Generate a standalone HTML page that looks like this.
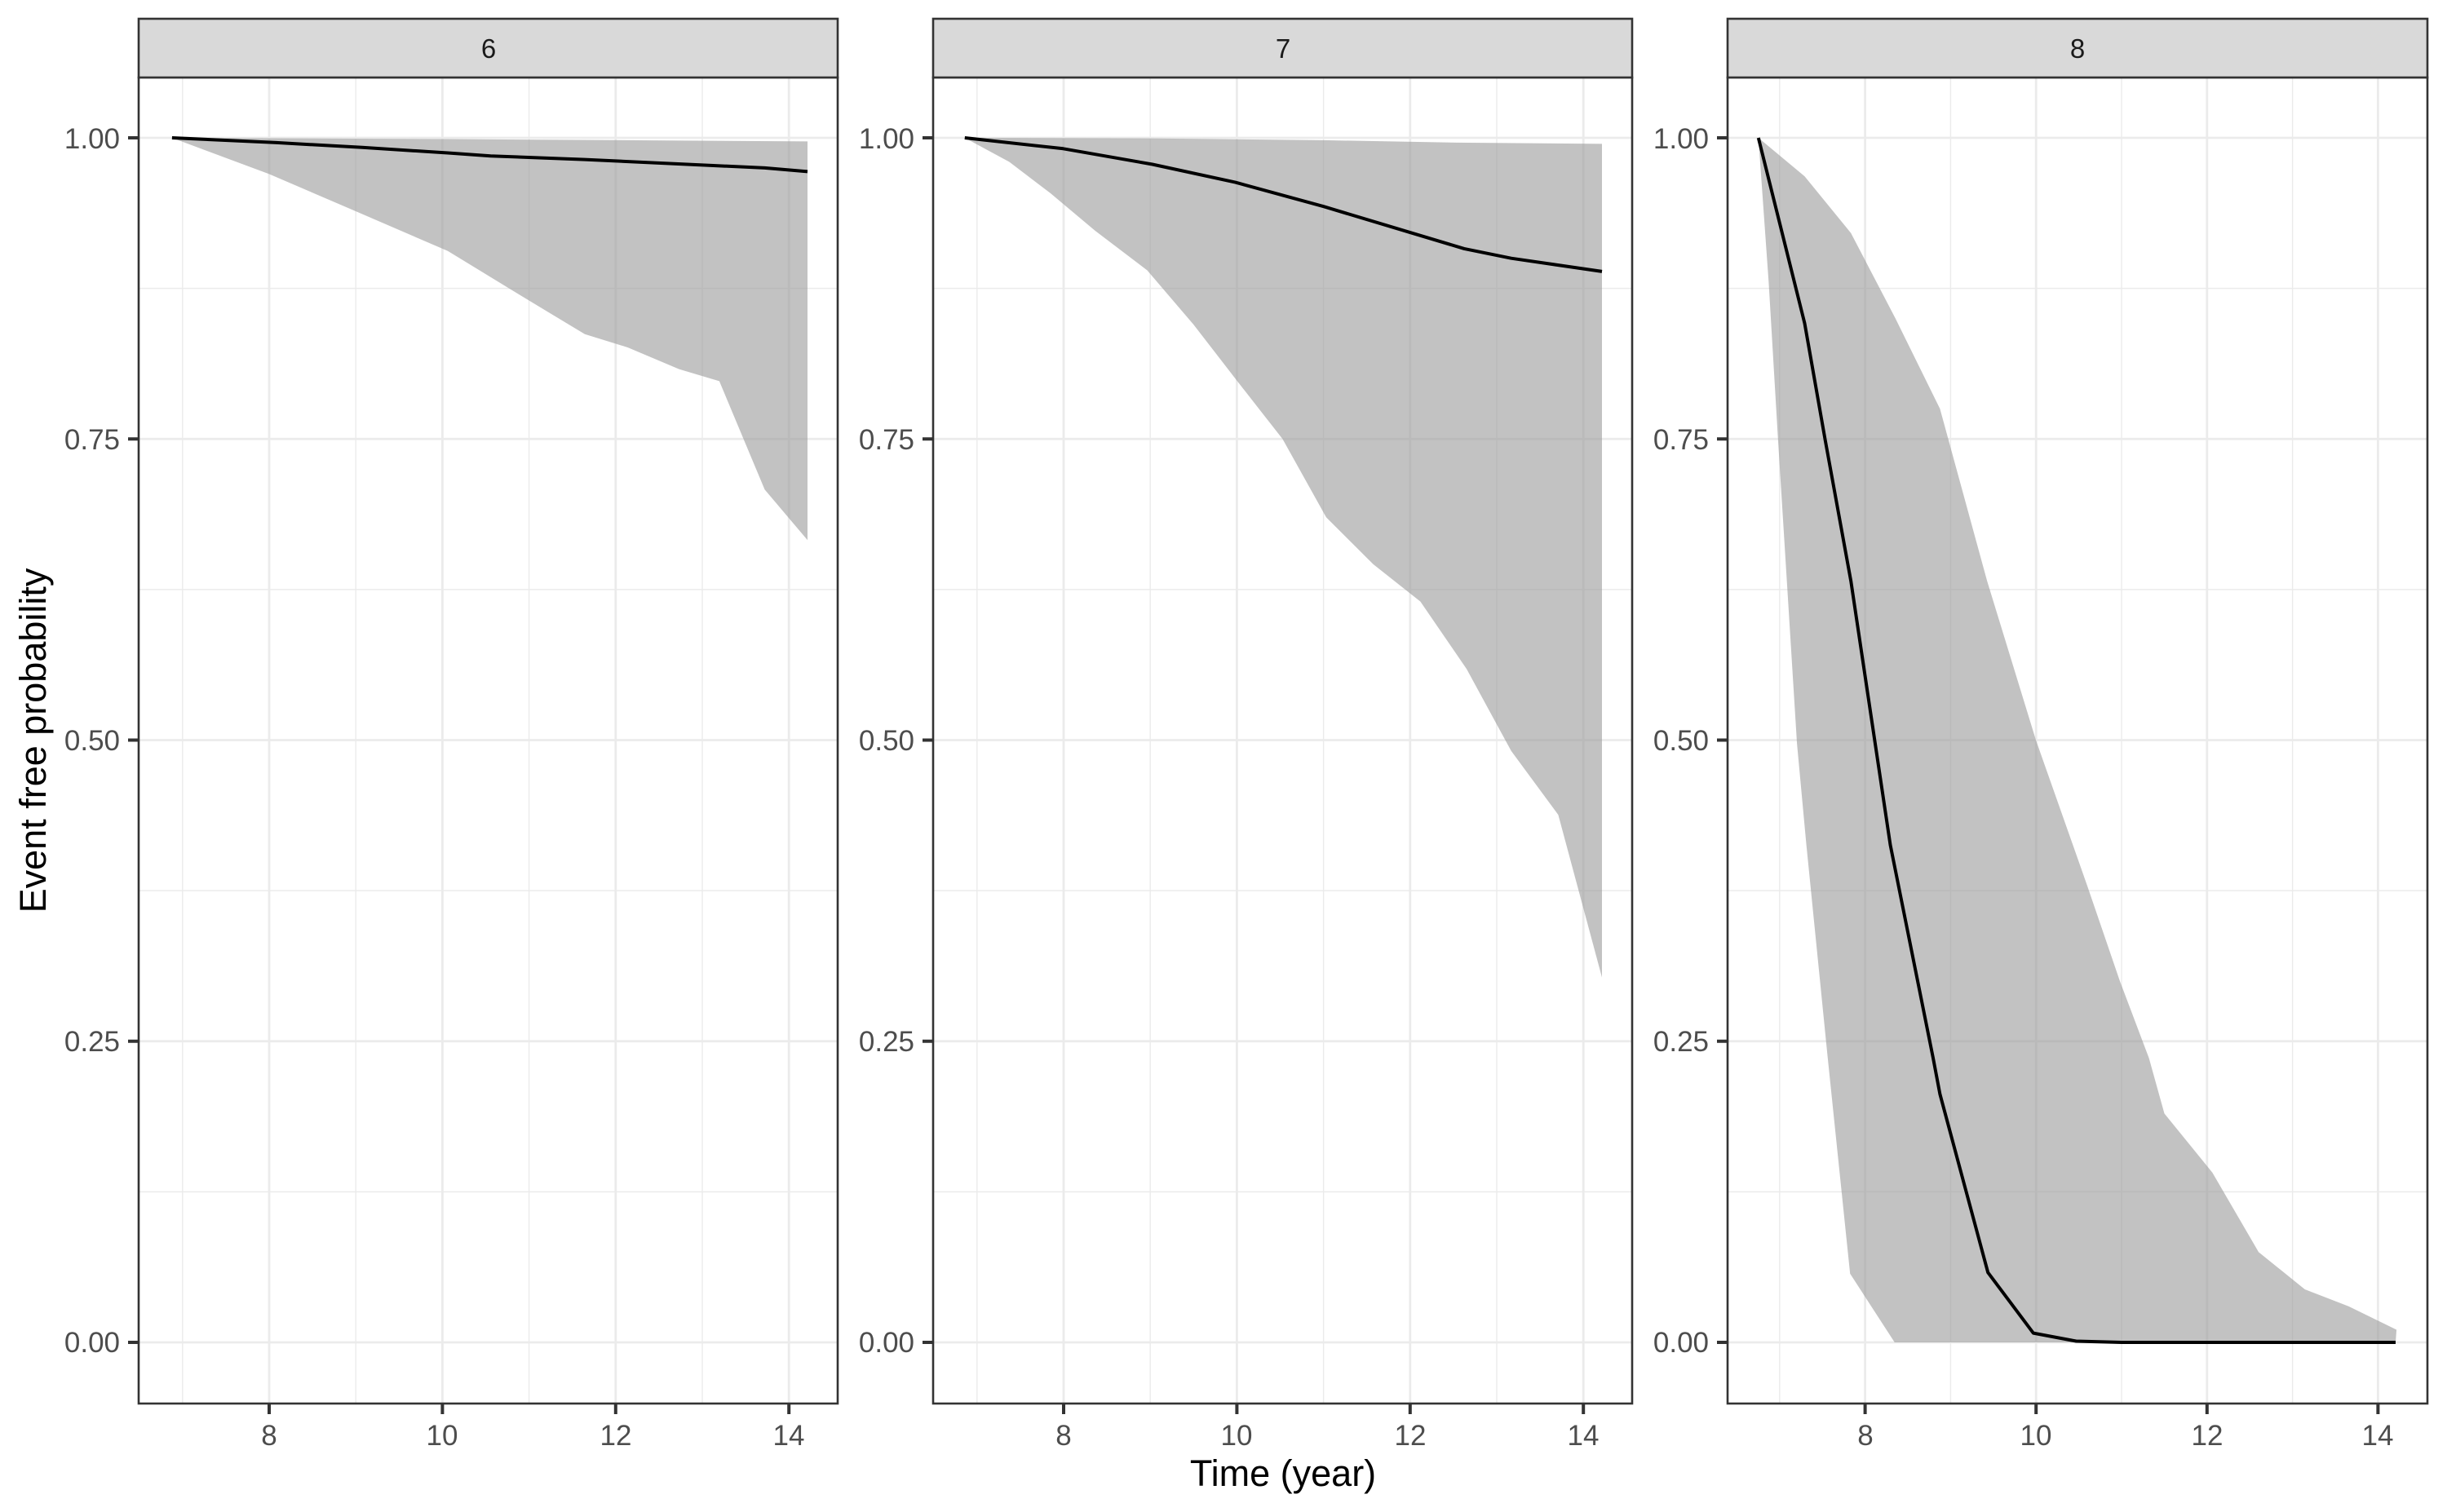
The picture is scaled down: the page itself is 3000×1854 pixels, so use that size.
<!DOCTYPE html>
<html><head><meta charset="utf-8"><style>
html,body{margin:0;padding:0;background:#fff}
svg{display:block}
text{font-family:"Liberation Sans",sans-serif}
</style></head><body>
<svg id="s" width="3000" height="1854" viewBox="0 0 3000 1854" xmlns="http://www.w3.org/2000/svg">
<g id="g"></g>
<g font-size="35" fill="#4d4d4d" text-anchor="end">
<text x="147" y="182">1.00</text><text x="147" y="551">0.75</text><text x="147" y="920">0.50</text><text x="147" y="1289">0.25</text><text x="147" y="1658">0.00</text>
<text x="1121" y="182">1.00</text><text x="1121" y="551">0.75</text><text x="1121" y="920">0.50</text><text x="1121" y="1289">0.25</text><text x="1121" y="1658">0.00</text>
<text x="2095" y="182">1.00</text><text x="2095" y="551">0.75</text><text x="2095" y="920">0.50</text><text x="2095" y="1289">0.25</text><text x="2095" y="1658">0.00</text>
</g>
<g font-size="35" fill="#4d4d4d" text-anchor="middle">
<text x="330" y="1772">8</text><text x="542" y="1772">10</text><text x="755" y="1772">12</text><text x="967" y="1772">14</text>
<text x="1304" y="1772">8</text><text x="1516" y="1772">10</text><text x="1729" y="1772">12</text><text x="1941" y="1772">14</text>
<text x="2287" y="1772">8</text><text x="2496" y="1772">10</text><text x="2706" y="1772">12</text><text x="2915" y="1772">14</text>
</g>
<g font-size="33" fill="#1a1a1a" text-anchor="middle">
<text x="599" y="71">6</text><text x="1573" y="71">7</text><text x="2547" y="71">8</text>
</g>
<text x="1573" y="1822" font-size="45" text-anchor="middle" fill="#000">Time (year)</text>
<text transform="translate(56,908) rotate(-90)" font-size="45" text-anchor="middle" fill="#000">Event free probability</text>
</svg>
<script>
var L=[170,1144,2118],R=[1027,2001,2976],T=95,B=1721;
var X0=[339,1313,2286];
function X(p,t){return X0[p]+(t-8)*105}
function G(p,t){return p<2?(L[p]+160+(t-8)*106.2):(L[p]+168.6+(t-8)*104.8)}
function Y(v){return 1646-1477*v}
var D=[
{lo:[[6.78,1],[7.91,0.970],[8.96,0.938],[10,0.906],[10.97,0.864],[11.6,0.837],[12.1,0.826],[12.7,0.808],[13.17,0.798],[13.7,0.708],[14.2,0.666]],
 up:[[6.78,1],[10,0.999],[14.2,0.997]],
 ln:[[6.78,1],[8,0.996],[9,0.992],[10,0.9875],[10.5,0.985],[11.6,0.982],[13.1,0.977],[13.7,0.975],[14.2,0.972]]},
{lo:[[6.76,1],[7.28,0.98],[7.76,0.954],[8.28,0.923],[8.89,0.89],[9.43,0.845],[9.92,0.8],[10.47,0.75],[10.98,0.685],[11.53,0.646],[12.08,0.615],[12.62,0.559],[13.14,0.491],[13.69,0.438],[14.2,0.303]],
 up:[[6.76,1],[9,0.9995],[11,0.998],[12.5,0.996],[14.2,0.995]],
 ln:[[6.76,1],[7.91,0.991],[8.95,0.978],[9.92,0.963],[10.95,0.943],[11.98,0.921],[12.59,0.908],[13.14,0.9],[14.2,0.889]]},
{lo:[[6.76,1],[6.88,0.88],[6.99,0.749],[7.21,0.497],[7.32,0.413],[7.57,0.236],[7.83,0.057],[8.35,0],[14.2,0]],
 up:[[6.76,1],[7.3,0.968],[7.84,0.921],[8.36,0.85],[8.88,0.775],[9.43,0.632],[10,0.5],[10.6,0.379],[10.98,0.3],[11.32,0.236],[11.5,0.19],[12.06,0.141],[12.6,0.075],[13.14,0.044],[13.65,0.03],[14.21,0.0105]],
 ln:[[6.76,1],[7.3,0.846],[7.54,0.749],[7.84,0.632],[8.3,0.413],[8.8,0.236],[8.88,0.206],[9.44,0.058],[9.97,0.0077],[10.47,0.001],[11,0],[14.2,0]]}
];
var h='';
for(var p=0;p<3;p++){
 var l=L[p],r=R[p],W=r-l;
 h+='<rect x="'+l+'" y="'+T+'" width="'+W+'" height="'+(B-T)+'" fill="#fff"/>';
 [0.125,0.375,0.625,0.875].forEach(function(v){h+='<line x1="'+l+'" x2="'+r+'" y1="'+Y(v)+'" y2="'+Y(v)+'" stroke="#ebebeb" stroke-width="1.4"/>'});
 [7,9,11,13].forEach(function(t){h+='<line y1="'+T+'" y2="'+B+'" x1="'+G(p,t)+'" x2="'+G(p,t)+'" stroke="#ebebeb" stroke-width="1.4"/>'});
 [0,0.25,0.5,0.75,1].forEach(function(v){h+='<line x1="'+l+'" x2="'+r+'" y1="'+Y(v)+'" y2="'+Y(v)+'" stroke="#ebebeb" stroke-width="2.8"/>'});
 [8,10,12,14].forEach(function(t){h+='<line y1="'+T+'" y2="'+B+'" x1="'+G(p,t)+'" x2="'+G(p,t)+'" stroke="#ebebeb" stroke-width="2.8"/>'});
 var d=D[p],pts=[];
 d.up.forEach(function(a){pts.push(X(p,a[0]).toFixed(1)+','+Y(a[1]).toFixed(1))});
 d.lo.slice().reverse().forEach(function(a){pts.push(X(p,a[0]).toFixed(1)+','+Y(a[1]).toFixed(1))});
 h+='<polygon points="'+pts.join(' ')+'" fill="#999" fill-opacity="0.6"/>';
 h+='<polyline points="'+d.ln.map(function(a){return X(p,a[0]).toFixed(1)+','+Y(a[1]).toFixed(1)}).join(' ')+'" fill="none" stroke="#000" stroke-width="4" stroke-linejoin="round"/>';
 h+='<rect x="'+l+'" y="'+T+'" width="'+W+'" height="'+(B-T)+'" fill="none" stroke="#333" stroke-width="2.6"/>';
 h+='<rect x="'+l+'" y="23" width="'+W+'" height="'+(T-23)+'" fill="#d9d9d9" stroke="#333" stroke-width="2.6"/>';
 [0,0.25,0.5,0.75,1].forEach(function(v){h+='<line x1="'+(l-13)+'" x2="'+l+'" y1="'+Y(v)+'" y2="'+Y(v)+'" stroke="#333" stroke-width="4"/>'});
 [8,10,12,14].forEach(function(t){h+='<line y1="'+B+'" y2="'+(B+13)+'" x1="'+G(p,t)+'" x2="'+G(p,t)+'" stroke="#333" stroke-width="4"/>'});
}
document.getElementById('g').innerHTML=h;
</script>
</body></html>
